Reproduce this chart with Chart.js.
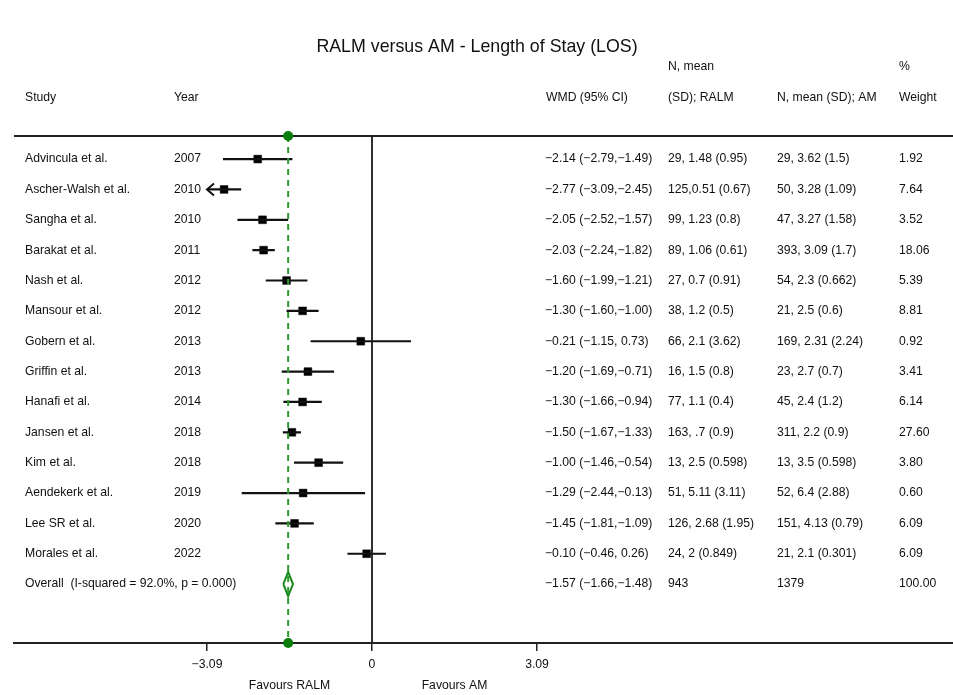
<!DOCTYPE html>
<html>
<head>
<meta charset="utf-8">
<script src="https://cdn.jsdelivr.net/npm/chart.js@4/dist/chart.umd.min.js"></script>
<style>
    html, body { margin: 0; padding: 0; background: #fff; overflow: hidden; }
    canvas { display: block; }
</style>
</head>
<body>
<canvas id="forest" width="953" height="695"></canvas>
<script>
// Study level data
const studies = ['Advincula et al.', 'Ascher-Walsh et al.', 'Sangha et al.', 'Barakat et al.', 'Nash et al.',
    'Mansour et al.', 'Gobern et al.', 'Griffin et al.', 'Hanafi et al.', 'Jansen et al.', 'Kim et al.',
    'Aendekerk et al.', 'Lee SR et al.', 'Morales et al.'];
const years = ['2007', '2010', '2010', '2011', '2012', '2012', '2013', '2013', '2014', '2018', '2018', '2019', '2020', '2022'];
const wmd = [-2.14, -2.77, -2.05, -2.03, -1.60, -1.30, -0.21, -1.20, -1.30, -1.50, -1.00, -1.29, -1.45, -0.10];
const ciLow = [-2.79, -3.09, -2.52, -2.24, -1.99, -1.60, -1.15, -1.69, -1.66, -1.67, -1.46, -2.44, -1.81, -0.46];
const ciHigh = [-1.49, -2.45, -1.57, -1.82, -1.21, -1.00, 0.73, -0.71, -0.94, -1.33, -0.54, -0.13, -1.09, 0.26];
const ralmText = ['29, 1.48 (0.95)', '125,0.51 (0.67)', '99, 1.23 (0.8)', '89, 1.06 (0.61)', '27, 0.7 (0.91)',
    '38, 1.2 (0.5)', '66, 2.1 (3.62)', '16, 1.5 (0.8)', '77, 1.1 (0.4)', '163, .7 (0.9)', '13, 2.5 (0.598)',
    '51, 5.11 (3.11)', '126, 2.68 (1.95)', '24, 2 (0.849)'];
const amText = ['29, 3.62 (1.5)', '50, 3.28 (1.09)', '47, 3.27 (1.58)', '393, 3.09 (1.7)', '54, 2.3 (0.662)',
    '21, 2.5 (0.6)', '169, 2.31 (2.24)', '23, 2.7 (0.7)', '45, 2.4 (1.2)', '311, 2.2 (0.9)', '13, 3.5 (0.598)',
    '52, 6.4 (2.88)', '151, 4.13 (0.79)', '21, 2.1 (0.301)'];
const weights = [1.92, 7.64, 3.52, 18.06, 5.39, 8.81, 0.92, 3.41, 6.14, 27.60, 3.80, 0.60, 6.09, 6.09];

// Pooled estimate
const overallLabel = 'Overall  (I-squared = 92.0%, p = 0.000)';
const overallWmd = -1.57;
const overallLow = -1.66;
const overallHigh = -1.48;
const overallRalm = '943';
const overallAm = '1379';
const overallWeight = 100.00;

// Axis
const tickValues = [-3.09, 0, 3.09];
const favourLabels = ['Favours RALM', 'Favours AM'];

// Scale extents
const X_MIN = -6.704;
const X_MAX = 10.88;
const Y_MIN = -0.76;
const Y_MAX = 15.94;
const FONT = '"Liberation Sans", Arial, Helvetica, sans-serif';
const INK = '#111';
const GREEN_DOT = '#0b7d0b';
const GREEN_LINE = '#2f9a2f';

const fmt = (v) => (v === 0 ? '0' : v.toFixed(2).replace('-', '\u2212'));
const ciText = (m, lo, hi) => `${fmt(m)} (${fmt(lo)},${hi >= 0 ? ' ' : ''}${fmt(hi)})`;

const overallRow = studies.length;

// CI segments, separated by gaps
const ciSegments = [];
studies.forEach((_, i) => {
    ciSegments.push({ x: ciLow[i], y: i });
    ciSegments.push({ x: ciHigh[i], y: i });
    ciSegments.push({ x: ciHigh[i], y: null });
});

const diamond = [
    { x: overallLow, y: overallRow },
    { x: overallWmd, y: overallRow - 0.4 },
    { x: overallHigh, y: overallRow },
    { x: overallWmd, y: overallRow + 0.4 },
    { x: overallLow, y: overallRow }
];

const forestText = {
    id: 'forestText',
    beforeDatasetsDraw(chart) {
        const { ctx, chartArea } = chart;
        // top rule
        ctx.save();
        ctx.strokeStyle = '#222';
        ctx.lineWidth = 2;
        ctx.beginPath();
        ctx.moveTo(chartArea.left, chartArea.top);
        ctx.lineTo(chartArea.right, chartArea.top);
        ctx.stroke();
        ctx.restore();
    },
    afterDatasetsDraw(chart) {
        const { ctx, scales } = chart;
        const x = scales.x;
        const y = scales.y;
        ctx.save();
        ctx.fillStyle = INK;

        // Title
        ctx.font = `17.8px ${FONT}`;
        ctx.textAlign = 'center';
        ctx.textBaseline = 'middle';
        ctx.fillText('RALM versus AM - Length of Stay (LOS)', 477, 47);

        // Headers
        ctx.font = `12.2px ${FONT}`;
        ctx.textAlign = 'left';
        ctx.fillText('N, mean', 668, 67);
        ctx.fillText('%', 899, 67);
        ctx.fillText('Study', 25, 98);
        ctx.fillText('Year', 174, 98);
        ctx.fillText('WMD (95% CI)', 546, 98);
        ctx.fillText('(SD); RALM', 668, 98);
        ctx.fillText('N, mean (SD); AM', 777, 98);
        ctx.fillText('Weight', 899, 98);

        // Rows
        studies.forEach((name, i) => {
            const py = y.getPixelForValue(i);
            ctx.fillText(name, 25, py);
            ctx.fillText(years[i], 174, py);
            ctx.fillText(ciText(wmd[i], ciLow[i], ciHigh[i]), 545, py);
            ctx.fillText(ralmText[i], 668, py);
            ctx.fillText(amText[i], 777, py);
            ctx.fillText(weights[i].toFixed(2), 899, py);
        });
        const oy = y.getPixelForValue(overallRow);
        ctx.fillText(overallLabel, 25, oy);
        ctx.fillText(ciText(overallWmd, overallLow, overallHigh), 545, oy);
        ctx.fillText(overallRalm, 668, oy);
        ctx.fillText(overallAm, 777, oy);
        ctx.fillText(overallWeight.toFixed(2), 899, oy);

        // Arrow for CIs truncated at the axis limit
        ctx.strokeStyle = INK;
        ctx.lineWidth = 2;
        studies.forEach((_, i) => {
            if (ciLow[i] <= tickValues[0]) {
                const tip = x.getPixelForValue(tickValues[0]);
                const py = y.getPixelForValue(i);
                ctx.beginPath();
                ctx.moveTo(tip + 7, py - 6);
                ctx.lineTo(tip, py);
                ctx.lineTo(tip + 7, py + 6);
                ctx.stroke();
            }
        });

        // Favours labels
        ctx.textAlign = 'center';
        ctx.fillText(favourLabels[0], x.getPixelForValue(tickValues[0] / 2), 686);
        ctx.fillText(favourLabels[1], x.getPixelForValue(tickValues[2] / 2), 686);
        ctx.restore();
    }
};

new Chart(document.getElementById('forest'), {
    type: 'scatter',
    data: {
        datasets: [
            {
                type: 'line',
                data: [{ x: 0, y: Y_MIN }, { x: 0, y: Y_MAX }],
                borderColor: '#1a1a1a',
                borderWidth: 1.8,
                pointRadius: 0
            },
            {
                type: 'line',
                data: [{ x: overallWmd, y: Y_MIN }, { x: overallWmd, y: Y_MAX }],
                borderColor: GREEN_LINE,
                borderWidth: 2,
                borderDash: [6, 5],
                pointRadius: 5,
                pointBackgroundColor: GREEN_DOT,
                pointBorderColor: GREEN_DOT,
                pointBorderWidth: 0,
                clip: false
            },
            {
                type: 'line',
                data: ciSegments,
                borderColor: INK,
                borderWidth: 2.2,
                pointRadius: 0,
                spanGaps: false
            },
            {
                data: wmd.map((v, i) => ({ x: v, y: i })),
                pointStyle: 'rect',
                pointRadius: 5.5,
                backgroundColor: '#000',
                borderColor: '#000',
                borderWidth: 0.5
            },
            {
                type: 'line',
                data: diamond,
                borderColor: '#17891a',
                borderWidth: 2,
                pointRadius: 0,
                fill: false,
                tension: 0
            }
        ]
    },
    options: {
        responsive: false,
        animation: false,
        layout: { autoPadding: false, padding: { top: 136, left: 14, right: 0, bottom: 0 } },
        plugins: {
            legend: { display: false },
            tooltip: { enabled: false },
            title: { display: false }
        },
        scales: {
            x: {
                type: 'linear',
                min: X_MIN,
                max: X_MAX,
                afterBuildTicks: (scale) => {
                    scale.ticks = tickValues.map(v => ({ value: v }));
                },
                afterFit: (scale) => {
                    scale.height = 52;
                    scale.paddingLeft = 0;
                    scale.paddingRight = 0;
                },
                ticks: {
                    callback: (v) => fmt(v),
                    color: INK,
                    font: { family: FONT, size: 12.2 },
                    padding: 6,
                    maxRotation: 0,
                    autoSkip: false
                },
                grid: {
                    drawOnChartArea: false,
                    drawTicks: true,
                    tickLength: 8,
                    color: '#222',
                    lineWidth: 1.5
                },
                border: { display: true, color: '#222', width: 2 }
            },
            y: {
                type: 'linear',
                display: false,
                reverse: true,
                min: Y_MIN,
                max: Y_MAX
            }
        }
    },
    plugins: [forestText]
});
</script>
</body>
</html>
